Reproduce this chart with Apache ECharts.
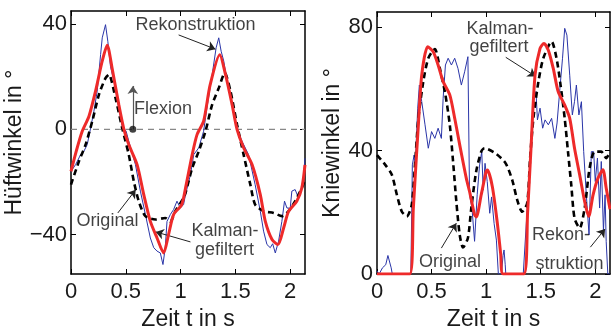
<!DOCTYPE html>
<html><head><meta charset="utf-8">
<script src="https://cdn.jsdelivr.net/npm/echarts@6/dist/echarts.min.js"></script>
<style>html,body{margin:0;padding:0;background:#fff}#c{width:611px;height:326px}</style>
</head><body><div id="c"></div>
<script>
// ---------- data (time in s, angle in degrees) ----------
const xTicks = [0, 0.5, 1, 1.5, 2];
const hipTicks = [-40, 0, 40];
const kneeTicks = [0, 40, 80];

const hipOriginal = [[0,-21],[0.073,-12.1],[0.133,-5.8],[0.194,3.1],[0.255,13.2],[0.315,19.5],[0.345,20.8],[0.406,11.9],[0.467,0.5],[0.527,-9.6],[0.573,-19.7],[0.618,-27.3],[0.679,-33],[0.77,-34.3],[0.86,-33.7],[0.906,-35],[0.952,-31.1],[1.027,-26.1],[1.045,-24.2],[1.106,-14.7],[1.166,-8.3],[1.227,-0.7],[1.288,9.4],[1.348,15.7],[1.403,21.4],[1.455,14.5],[1.515,1.8],[1.575,-9.6],[1.636,-21],[1.68,-28.6],[1.757,-31.1],[1.848,-31.8],[1.925,-33],[1.985,-31.1],[2.045,-27.3],[2.106,-22.3],[2.135,-19]];

const hipKalman = [[0,-16],[0.05,-8],[0.10,-1],[0.164,5],[0.224,14.5],[0.285,26],[0.33,32],[0.376,23],[0.436,9.4],[0.48,0.5],[0.527,-5.8],[0.603,-13.4],[0.664,-24.8],[0.724,-35],[0.785,-41.3],[0.845,-47],[0.89,-40],[0.936,-32.4],[1.01,-28.6],[1.045,-22.3],[1.106,-9.6],[1.15,-2],[1.21,3.1],[1.27,17],[1.357,28.4],[1.41,20.8],[1.47,9.4],[1.515,0],[1.575,-7],[1.652,-13.4],[1.727,-24.8],[1.773,-35],[1.834,-41.9],[1.888,-43.8],[1.94,-37.5],[1.985,-31.2],[2.06,-27.3],[2.106,-22.3],[2.135,-13.5]];

const hipRecon = [[0,-16],[0.042,-13.4],[0.088,-9.6],[0.118,-8.3],[0.148,-5.8],[0.179,0.5],[0.209,6.9],[0.239,14.5],[0.27,28.4],[0.285,34.8],[0.315,39.8],[0.336,33.5],[0.36,24],[0.376,24.6],[0.406,15.7],[0.436,8.1],[0.467,1.2],[0.503,-0.7],[0.527,-4.5],[0.588,-13.4],[0.633,-23.5],[0.679,-32.4],[0.724,-41.3],[0.755,-45],[0.785,-46.3],[0.815,-47],[0.839,-51.4],[0.86,-45],[0.876,-35],[0.906,-32.4],[0.936,-30.5],[0.967,-27.3],[0.997,-29.9],[1.027,-28.6],[1.045,-24.8],[1.09,-17.2],[1.12,-9.6],[1.166,-7],[1.21,-0.7],[1.24,8.1],[1.288,20.8],[1.324,31],[1.348,34.8],[1.37,29.7],[1.394,25.9],[1.424,18.3],[1.47,9.4],[1.515,0.5],[1.56,-4.5],[1.62,-9.6],[1.68,-21],[1.727,-31.1],[1.757,-38.7],[1.788,-43.8],[1.818,-45],[1.84,-43.5],[1.864,-47],[1.894,-42.5],[1.924,-35],[1.948,-27.3],[1.97,-29.9],[2.0,-30],[2.015,-23.5],[2.045,-22.9],[2.076,-26.1],[2.09,-25],[2.12,-18.5],[2.135,-11]];

const kneeOriginal = [[0,38.6],[0.076,35.4],[0.136,32.2],[0.182,25.7],[0.227,20.3],[0.273,18.7],[0.318,22.4],[0.348,35.4],[0.379,50.5],[0.424,62.4],[0.47,70],[0.53,73],[0.576,66.7],[0.627,58.1],[0.667,48.4],[0.697,36.5],[0.727,23.5],[0.758,12.7],[0.788,8.6],[0.833,11.7],[0.864,21.4],[0.909,33.3],[0.955,39.7],[0.985,40.8],[1.088,39.1],[1.179,35.9],[1.24,30.4],[1.285,24],[1.33,20.2],[1.376,23],[1.403,37.6],[1.433,50.5],[1.479,62.4],[1.524,70],[1.6,75.4],[1.645,70],[1.682,61.3],[1.72,50.5],[1.75,39.7],[1.78,28.9],[1.81,18.1],[1.857,14.9],[1.903,21.4],[1.948,34.3],[1.994,39.7],[2.055,39.7],[2.1,37.6],[2.135,39.7]];

const kneeKalman = [[0,0],[0.30,0],[0.333,21.4],[0.379,48.4],[0.41,64.6],[0.464,73.7],[0.515,72.1],[0.56,67.8],[0.606,62.4],[0.667,58.1],[0.712,50.5],[0.758,41.9],[0.818,31.1],[0.848,26.8],[0.894,19.2],[0.91,18.5],[0.955,25.7],[1.0,33.3],[1.012,33.7],[1.057,28.3],[1.103,16.4],[1.133,6.7],[1.155,0],[1.345,0],[1.38,20],[1.41,40],[1.448,64.5],[1.494,73.2],[1.53,74.8],[1.57,72.6],[1.615,66.7],[1.66,59.2],[1.72,54.8],[1.766,50.5],[1.81,40.8],[1.857,32.2],[1.903,23.5],[1.94,18.7],[1.98,25.7],[2.025,31.1],[2.07,33.8],[2.1,27.9],[2.135,21]];

const kneeRecon = [[0,1],[0.02,0],[0.05,2],[0.08,3],[0.1,6],[0.118,5.5],[0.13,2],[0.14,0],[0.31,0],[0.318,20],[0.324,35.4],[0.34,38.6],[0.35,35],[0.373,53.8],[0.388,61.3],[0.41,55.9],[0.44,48.4],[0.47,40.8],[0.5,46.2],[0.53,44],[0.56,47.3],[0.59,44],[0.606,57],[0.627,67.8],[0.652,70],[0.682,67.8],[0.712,70],[0.742,66.7],[0.773,61.3],[0.803,65.6],[0.833,70.5],[0.848,25.7],[0.87,21.5],[0.894,10.6],[0.918,25.7],[0.94,35.4],[0.96,39.7],[0.973,27.2],[0.99,35.9],[1.01,30],[1.033,19.7],[1.05,25],[1.073,16.4],[1.094,11],[1.112,0],[1.14,0],[1.155,6],[1.164,7.8],[1.175,3],[1.18,0],[1.34,0],[1.373,19.2],[1.41,40.8],[1.433,55.9],[1.457,59.2],[1.47,50],[1.494,53.8],[1.518,47.3],[1.54,50],[1.57,48.4],[1.6,50.5],[1.63,44],[1.65,49],[1.676,60.2],[1.7,70],[1.72,79.7],[1.74,77.5],[1.766,64.5],[1.79,51.6],[1.81,56],[1.827,61.3],[1.85,51.6],[1.873,55.9],[1.894,39.7],[1.918,25.7],[1.943,12.7],[1.964,39.7],[1.985,39.7],[2.0,30],[2.02,37.6],[2.04,21.4],[2.055,36.5],[2.075,14],[2.09,25.7],[2.1,10.6],[2.115,0],[2.135,0]];

// annotations (data coordinates)
const hipNotes = [
  {name:'Rekonstruktion', value:[1.136,39.5]},
  {name:'Flexion', value:[0.84,7.9]},
  {name:'Original', value:[0.332,-35]},
  {name:'Kalman-', value:[1.405,-38.6]},
  {name:'gefiltert', value:[1.40,-45.9]}
];
const hipArrows = [[[0.982,35.9],[1.318,30.5]],[[0.427,-31.8],[0.59,-23]],[[1.09,-42.8],[0.773,-39]]];
const flexionArrow = [[0.564,0],[0.564,16.5]];
const kneeNotes = [
  {name:'Kalman-', value:[1.127,79.5]},
  {name:'gefiltert', value:[1.118,73.7]},
  {name:'Original', value:[0.668,4]},
  {name:'Rekon-', value:[1.686,12.8]},
  {name:'struktion', value:[1.764,3.1]}
];
const kneeArrows = [[[1.18,70.3],[1.455,64.1]],[[0.59,8.4],[0.727,16.5]],[[1.955,8.7],[2.09,14.6]]];

// ---------- chart ----------
const FONT = 'Liberation Sans';
const fmt = v => v < 0 ? '\u2212' + Math.abs(v) : String(v);
const axLine = {show:true, onZero:false, lineStyle:{color:'#000', width:1.5}};

function xAx(grid, top){
  return {
    type:'value', gridIndex:grid, min:0, max:2.135, position: top ? 'top' : 'bottom',
    axisLine: axLine,
    axisTick:{show:true, inside:true, length:5, customValues:xTicks, lineStyle:{color:'#000', width:1}},
    axisLabel:{show:!top, customValues:xTicks, fontSize:22, fontFamily:FONT, color:'#1a1a1a', margin:7, formatter:fmt},
    splitLine:{show:false},
    name: top ? '' : 'Zeit t in s', nameLocation:'middle', nameGap:33,
    nameTextStyle:{fontSize:23, fontFamily:FONT, color:'#1a1a1a'}
  };
}
function yAx(grid, right, min, max, ticks, name){
  return {
    type:'value', gridIndex:grid, min:min, max:max, position: right ? 'right' : 'left',
    axisLine: axLine,
    axisTick:{show:true, inside:true, length:5, customValues:ticks, lineStyle:{color:'#000', width:1}},
    axisLabel:{show:!right, customValues:ticks, fontSize:22, fontFamily:FONT, color:'#1a1a1a', margin:4, formatter:fmt},
    splitLine:{show:false},
    name: right ? '' : name, nameLocation:'middle', nameGap: grid === 0 ? 39 : 22,
    nameTextStyle:{fontSize:23, fontFamily:FONT, color:'#1a1a1a'}
  };
}
function line(data, xi, yi, kind){
  const st = {
    recon:{color:'#2a35a8', width:1, type:'solid'},
    orig:{color:'#000', width:2.6, type:[6,4]},
    kalman:{color:'#ee2a2a', width:3, type:'solid'}
  }[kind];
  return {type:'line', xAxisIndex:xi, yAxisIndex:yi, data:data, showSymbol:false, symbol:'none',
    smooth: kind === 'recon' ? false : 0.25, lineStyle:st, z: kind==='kalman'?5:(kind==='orig'?4:3)};
}
function notes(data, arrows, xi, yi){
  return {type:'scatter', xAxisIndex:xi, yAxisIndex:yi, data:data, symbolSize:0, z:10,
    label:{show:true, position:'inside', formatter:p=>p.data.name, fontSize:18, fontFamily:FONT, color:'#111'},
    labelLayout:{hideOverlap:false},
    markLine:{silent:true, symbol:['none','arrow'], symbolSize:8, animation:false,
      lineStyle:{color:'#222', width:1, type:'solid'}, label:{show:false},
      data: arrows.map(a => [{coord:a[0]},{coord:a[1]}])}
  };
}

const chart = echarts.init(document.getElementById('c'), null, {renderer:'canvas'});
chart.setOption({
  animation:false,
  backgroundColor:'#fff',
  grid:[{left:71, right:306, top:11, bottom:52, outerBoundsMode:'none', containLabel:false},
        {left:377, right:1, top:12, bottom:52, outerBoundsMode:'none', containLabel:false}],
  xAxis:[xAx(0,false), xAx(0,true), xAx(1,false), xAx(1,true)],
  yAxis:[yAx(0,false,-55,45,hipTicks,'Hüftwinkel in °'), yAx(0,true,-55,45,hipTicks,''),
         yAx(1,false,0,85,kneeTicks,'Kniewinkel in °'), yAx(1,true,0,85,kneeTicks,'')],
  series:[
    {type:'line', xAxisIndex:0, yAxisIndex:0, data:[[0,0],[2.135,0]], symbol:'none',
      lineStyle:{color:'#888', width:1.3, type:[6,5]}, z:1},
    line(hipRecon,0,0,'recon'), line(hipOriginal,0,0,'orig'), line(hipKalman,0,0,'kalman'),
    line(kneeRecon,2,2,'recon'), line(kneeOriginal,2,2,'orig'), line(kneeKalman,2,2,'kalman'),
    notes(hipNotes, hipArrows, 0, 0),
    notes(kneeNotes, kneeArrows, 2, 2),
    {type:'scatter', xAxisIndex:0, yAxisIndex:0, data:[flexionArrow[0]], symbolSize:7, z:11,
      itemStyle:{color:'#111'},
      markLine:{silent:true, symbol:['none','arrow'], symbolSize:8, animation:false,
        lineStyle:{color:'#555', width:1.2, type:'solid'}, label:{show:false},
        data:[[{coord:flexionArrow[0]},{coord:flexionArrow[1]}]]}}
  ]
});
</script></body></html>
